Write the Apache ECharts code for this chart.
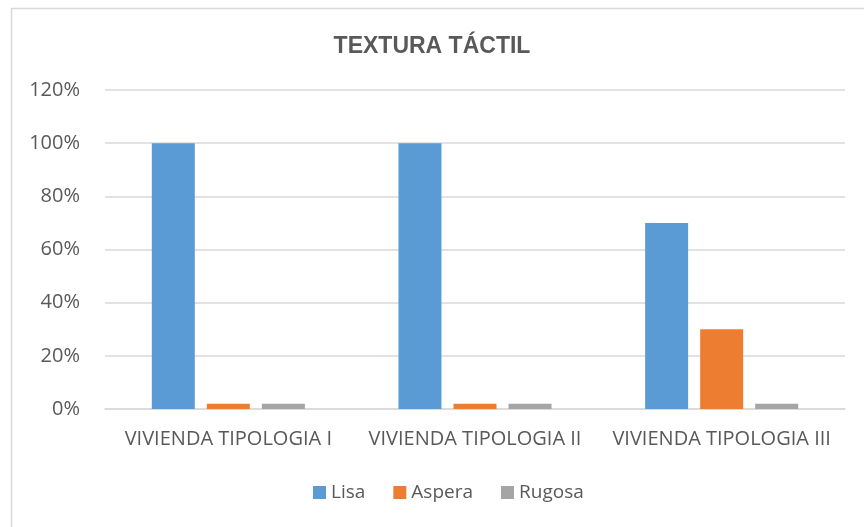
<!DOCTYPE html>
<html>
<head>
<meta charset="utf-8">
<script src="https://cdn.jsdelivr.net/npm/echarts@6/dist/echarts.min.js"></script>
<style>
html, body { margin: 0; padding: 0; background: #fff; }
#chart { width: 864px; height: 527px; }
</style>
</head>
<body>
<div id="chart"></div>
<script>
const categories = ['VIVIENDA TIPOLOGIA I', 'VIVIENDA TIPOLOGIA II', 'VIVIENDA TIPOLOGIA III']
const lisa = [100, 100, 70]
const aspera = [2, 2, 30]
const rugosa = [2, 2, 2]
const yTicks = [0, 20, 40, 60, 80, 100, 120]

const textColor = '#595959'
const font = '"Open Sans", "Liberation Sans", sans-serif'

const chart = echarts.init(document.getElementById('chart'))

function bar(name, data, color) {
    return {
        name: name,
        type: 'bar',
        data: data,
        barWidth: 43,
        barGap: '28%',
        itemStyle: { color: color },
        animation: false
    }
}

chart.setOption({
    graphic: [{
        type: 'rect',
        shape: { x: 11.5, y: 8.5, width: 900, height: 600 },
        style: { fill: 'none', stroke: '#d9d9d9', lineWidth: 1.5 },
        silent: true
    }],
    title: {
        text: 'TEXTURA TÁCTIL',
        left: 'center',
        top: 30,
        textStyle: {
            color: textColor,
            fontSize: 23,
            fontWeight: 'bold',
            fontFamily: '"Liberation Sans", Arial, sans-serif'
        }
    },
    legend: {
        bottom: 20,
        left: 308,
        itemWidth: 13,
        itemHeight: 13,
        itemGap: 28,
        icon: 'rect',
        textStyle: { color: textColor, fontSize: 19, fontFamily: font },
        data: ['Lisa', 'Aspera', 'Rugosa']
    },
    grid: {
        left: 105,
        right: 19,
        top: 90,
        bottom: 118
    },
    xAxis: {
        type: 'category',
        data: categories,
        axisTick: { show: false },
        axisLine: { lineStyle: { color: '#d9d9d9', width: 1.5 } },
        axisLabel: {
            color: textColor,
            fontSize: 20,
            fontFamily: font,
            margin: 20,
            interval: 0,
            hideOverlap: false
        }
    },
    yAxis: {
        type: 'value',
        min: yTicks[0],
        max: yTicks[yTicks.length - 1],
        interval: 20,
        axisLine: { show: false },
        axisTick: { show: false },
        splitLine: { lineStyle: { color: '#d9d9d9', width: 1.5 } },
        axisLabel: {
            color: textColor,
            fontSize: 20,
            fontFamily: font,
            margin: 25,
            formatter: v => v + '%'
        }
    },
    series: [
        bar('Lisa', lisa, '#5b9bd5'),
        bar('Aspera', aspera, '#ed7d31'),
        bar('Rugosa', rugosa, '#a5a5a5')
    ]
})
</script>
</body>
</html>
